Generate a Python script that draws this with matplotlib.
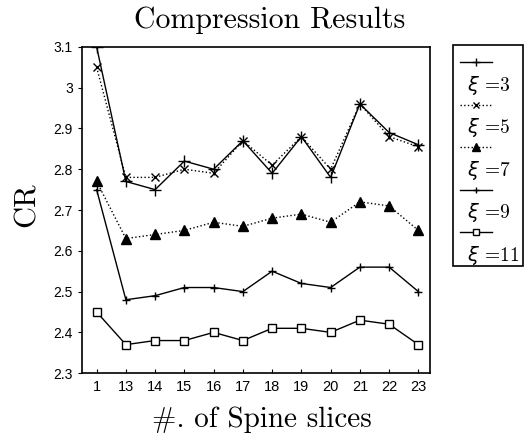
import matplotlib
matplotlib.use("Agg")
import matplotlib.pyplot as plt
from matplotlib.lines import Line2D
from matplotlib.patches import Rectangle

slices = ["1", "13", "14", "15", "16", "17", "18", "19", "20", "21", "22", "23"]
xi3 = [3.10, 2.77, 2.75, 2.82, 2.80, 2.87, 2.79, 2.88, 2.78, 2.96, 2.89, 2.86]
xi5 = [3.05, 2.78, 2.78, 2.80, 2.79, 2.87, 2.81, 2.88, 2.80, 2.96, 2.88, 2.855]
xi7 = [2.77, 2.63, 2.64, 2.65, 2.67, 2.66, 2.68, 2.69, 2.67, 2.72, 2.71, 2.65]
xi9 = [2.75, 2.48, 2.49, 2.51, 2.51, 2.50, 2.55, 2.52, 2.51, 2.56, 2.56, 2.50]
xi11 = [2.45, 2.37, 2.38, 2.38, 2.40, 2.38, 2.41, 2.41, 2.40, 2.43, 2.42, 2.37]
labels = ["3", "5", "7", "9", "11"]
yticks = [2.3, 2.4, 2.5, 2.6, 2.7, 2.8, 2.9, 3.0, 3.1]
ytick_labels = ["2.3", "2.4", "2.5", "2.6", "2.7", "2.8", "2.9", "3", "3.1"]

styles = [
    dict(ls="-", marker="+", ms=8, mfc="none"),
    dict(ls=":", marker="x", ms=5.5, mfc="none"),
    dict(ls=":", marker="^", ms=7.5, mfc="black"),
    dict(ls="-", marker="+", ms=6, mfc="none"),
    dict(ls="-", marker="s", ms=6, mfc="white"),
]

fig = plt.figure(figsize=(5.29, 4.38), dpi=100)
ax = fig.add_axes([0.155, 0.148, 0.658, 0.745])
x = list(range(len(slices)))
for series, st in zip([xi3, xi5, xi7, xi9, xi11], styles):
    ax.plot(x, series, color="black", lw=1.0, mec="black", mew=1.0, **st)

ax.set_xlim(-0.5, 11.4)
ax.set_ylim(2.3, 3.1)
ax.set_xticks(x)
ax.set_xticklabels(slices, family="Liberation Sans", fontsize=10.5)
ax.set_yticks(yticks)
ax.set_yticklabels(ytick_labels, family="Liberation Sans", fontsize=10)
ax.tick_params(axis="x", length=3, direction="in", pad=5)
ax.tick_params(axis="y", length=3, direction="out")
for s in ax.spines.values():
    s.set_linewidth(1.2)

fig.text(0.51, 0.936, "Compression Results", family="cmr10", fontsize=21.5, ha="center", va="baseline")
fig.text(0.052, 0.532, "CR", family="cmr10", fontsize=22, rotation=90, ha="center", va="center")
fig.text(0.495, 0.025, "#. of Spine slices", family="cmr10", fontsize=21, ha="center", va="baseline")

# legend box
fig.patches.append(Rectangle((0.856, 0.393), 0.133, 0.504, transform=fig.transFigure,
                             fill=False, lw=1.2, ec="black"))
y0 = 0.858
step = 0.097
for i, (lab, st) in enumerate(zip(labels, styles)):
    yl = y0 - i * step
    kw = {k: v for k, v in st.items() if k != "ms"}
    ln = Line2D([0.870, 0.900, 0.930], [yl, yl, yl], transform=fig.transFigure, color="black",
                lw=1.0, mec="black", mew=1.0, ms=st["ms"] * 0.8, markevery=[1], **kw)
    fig.lines.append(ln)
    fig.text(0.883, yl - 0.0525, r"$\xi$ =" + lab, family="cmr10", fontsize=14, ha="left", va="center")

fig.savefig("out.png", dpi=100)
